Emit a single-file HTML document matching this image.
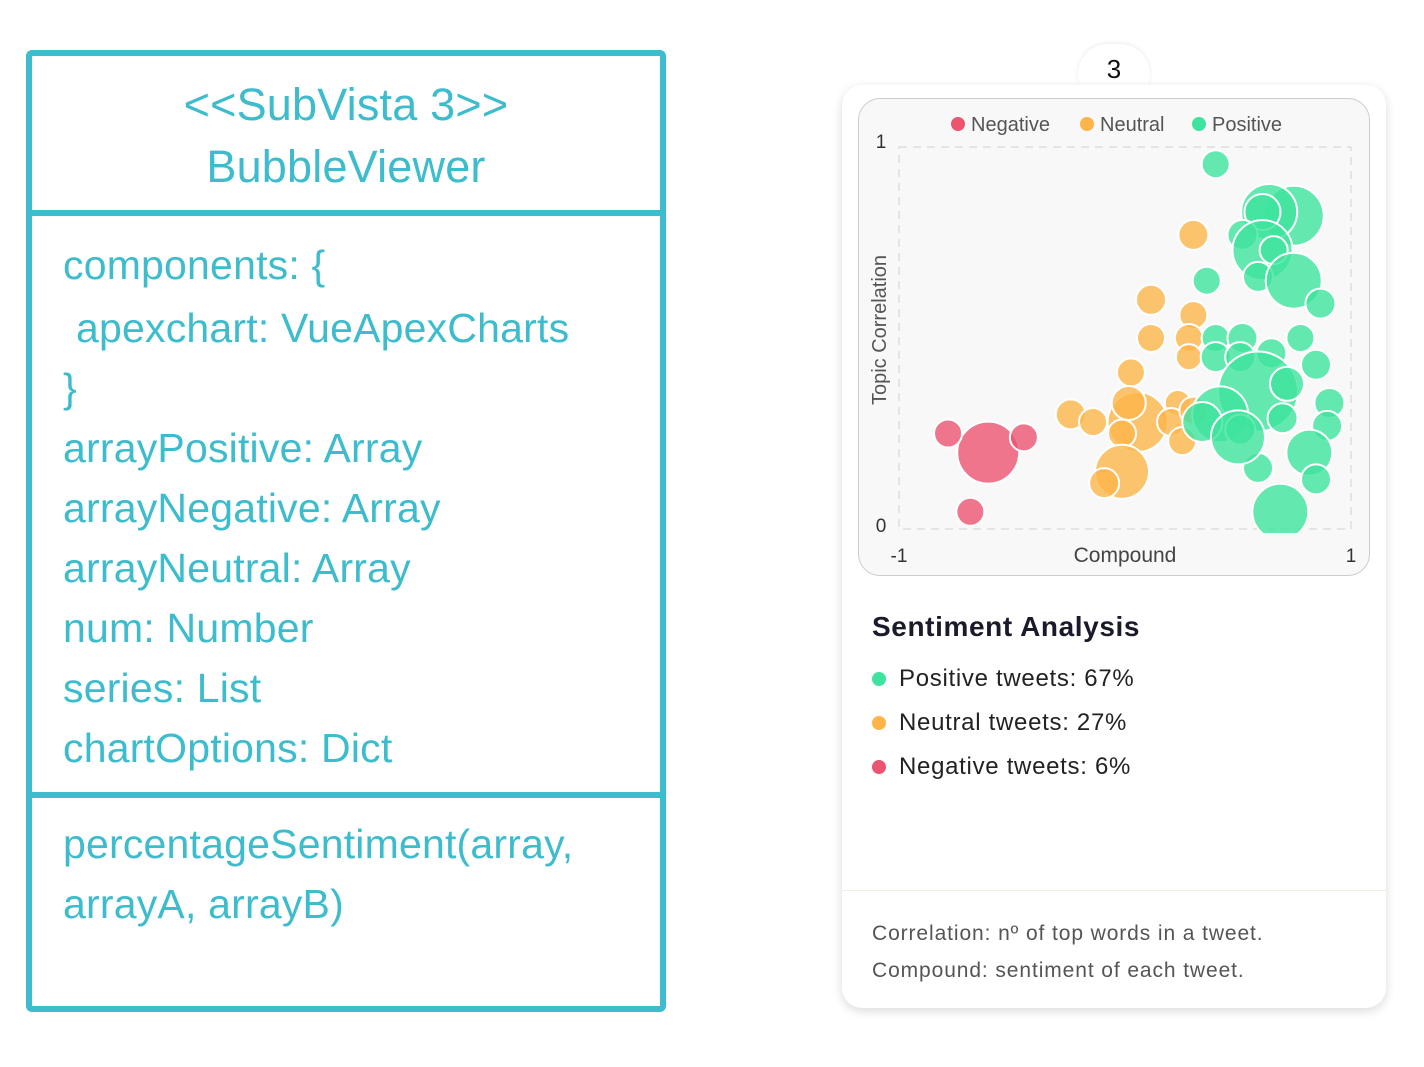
<!DOCTYPE html>
<html><head><meta charset="utf-8"><style>
body{margin:0;width:1424px;height:1067px;background:#fff;position:relative;overflow:hidden;font-family:"Liberation Sans",sans-serif}
.t{position:absolute;color:#3cbccc;font-size:41px;white-space:nowrap;line-height:1;letter-spacing:0.2px}
.uml{position:absolute;left:26px;top:50px;width:628px;height:950px;border:6px solid #3cbccc;border-radius:6px}
.div{position:absolute;left:26px;width:640px;height:6px;background:#3cbccc}
.card{position:absolute;left:842px;top:85px;width:544px;height:923px;border-radius:20px;background:#fff;box-shadow:0 3px 10px rgba(0,0,0,0.15)}
.li{position:absolute;left:899px;font-size:24px;color:#222;white-space:nowrap;letter-spacing:0.7px}
.dot{position:absolute;left:872px;width:14px;height:14px;border-radius:50%}
.ft{position:absolute;left:872px;font-size:21px;color:#555;white-space:nowrap;letter-spacing:0.9px}
</style></head><body>
<div class="uml"></div>
<div class="div" style="top:210px"></div>
<div class="div" style="top:792px"></div>
<div class="t" style="left:26px;width:640px;text-align:center;top:82px;font-size:45px">&lt;&lt;SubVista 3&gt;&gt;</div>
<div class="t" style="left:26px;width:640px;text-align:center;top:144px;font-size:45px">BubbleViewer</div>
<div class="t" style="left:63px;top:245px">components: {</div>
<div class="t" style="left:76px;top:308px">apexchart: VueApexCharts</div>
<div class="t" style="left:63px;top:368px">}</div>
<div class="t" style="left:63px;top:428px">arrayPositive: Array</div>
<div class="t" style="left:63px;top:488px">arrayNegative: Array</div>
<div class="t" style="left:63px;top:548px">arrayNeutral: Array</div>
<div class="t" style="left:63px;top:608px">num: Number</div>
<div class="t" style="left:63px;top:668px">series: List</div>
<div class="t" style="left:63px;top:728px">chartOptions: Dict</div>
<div class="t" style="left:63px;top:824px">percentageSentiment(array,</div>
<div class="t" style="left:63px;top:884px">arrayA, arrayB)</div>

<div style="position:absolute;left:1078px;top:44px;width:72px;height:60px;border-radius:36px;background:#fff;box-shadow:0 -1px 4px rgba(0,0,0,0.08)"></div>
<div class="card"></div>
<div style="position:absolute;left:1078px;top:54px;width:72px;text-align:center;font-size:26px;color:#111">3</div>
<div style="position:absolute;left:858px;top:98px;width:510px;height:476px;border:1px solid #ccc;border-radius:22px;background:#f8f8f8"></div>
<svg id="chart" width="1424" height="1067" style="position:absolute;left:0;top:0"></svg>
<div style="position:absolute;left:872px;top:611px;font-size:28px;font-weight:bold;color:#1a1a2a;letter-spacing:0.6px">Sentiment Analysis</div>
<div class="dot" style="top:672px;background:#3de39e"></div>
<div class="li" style="top:665px">Positive tweets: 67%</div>
<div class="dot" style="top:716px;background:#fdb54a"></div>
<div class="li" style="top:709px">Neutral tweets: 27%</div>
<div class="dot" style="top:760px;background:#ec5470"></div>
<div class="li" style="top:753px">Negative tweets: 6%</div>
<div style="position:absolute;left:842px;top:890px;width:544px;height:1px;background:#f3eedd"></div>
<div class="ft" style="top:922px">Correlation: nº of top words in a tweet.</div>
<div class="ft" style="top:959px">Compound: sentiment of each tweet.</div>
<script>
const negX=[-0.60,-0.78,-0.44,-0.68];
const negY=[0.20,0.25,0.24,0.045];
const negZ=[31,14,14,14];
const neuX=[0.32,0.13,0.32,0.13,0.30,0.30,0.04,-0.23,-0.13,0.07,0.03,0.00,0.25,0.22,0.27,0.00,-0.08,0.32];
const neuY=[0.77,0.60,0.56,0.50,0.50,0.45,0.41,0.30,0.28,0.28,0.33,0.25,0.33,0.28,0.23,0.15,0.12,0.31];
const neuZ=[15,15,14,14,14,13,14,15,14,30,17,14,13,14,14,27,15,14];
const posX=[0.42,0.77,0.66,0.63,0.54,0.63,0.68,0.61,0.77,0.89,0.38,0.42,0.54,0.80,0.42,0.53,0.67,0.87,0.61,0.74,0.44,0.36,0.93,0.72,0.53,0.92,0.84,0.61,0.87,0.71,0.52];
const posY=[0.955,0.82,0.83,0.83,0.77,0.73,0.73,0.66,0.65,0.59,0.65,0.50,0.50,0.50,0.45,0.45,0.46,0.43,0.36,0.38,0.30,0.28,0.33,0.29,0.26,0.27,0.20,0.16,0.13,0.045,0.24];
const posZ=[14,30,28,18,15,30,14,15,28,15,14,14,15,14,15,15,15,15,40,17,28,20,15,15,15,15,23,15,15,28,27];
const xTicks=["-1","1"], yTicks=["0","1"];
const legendNames=["Negative","Neutral","Positive"];
const colors=["#ec5470","#fdb54a","#3de39e"];
const NS="http://www.w3.org/2000/svg";
const svg=document.getElementById('chart');
const L=899,R=1345,T=147,B=529;
const sx=v=>L+(v+1)/2*(R-L), sy=v=>B-v*(B-T);
function mk(tag,attrs){const e=document.createElementNS(NS,tag);for(const k in attrs)e.setAttribute(k,attrs[k]);svg.appendChild(e);return e;}
const defs=mk('defs',{});const cp=document.createElementNS(NS,'clipPath');cp.setAttribute('id','clip');
const cr=document.createElementNS(NS,'rect');cr.setAttribute('x',860);cr.setAttribute('y',100);cr.setAttribute('width',508);cr.setAttribute('height',433);cp.appendChild(cr);defs.appendChild(cp);
const grid=mk('rect',{x:L,y:T,width:R-L+6,height:B-T,fill:'none',stroke:'#ddd','stroke-dasharray':'8,6','stroke-width':1.5});


const g=mk('g',{'clip-path':'url(#clip)'});
function series(xs,ys,zs,col,name){
  for(let i=0;i<xs.length;i++){
    const c=document.createElementNS(NS,'circle');
    c.setAttribute('cx',sx(xs[i]));c.setAttribute('cy',sy(ys[i]));c.setAttribute('r',zs[i]);
    c.setAttribute('fill',col);c.setAttribute('fill-opacity',0.8);c.setAttribute('stroke','#fff');c.setAttribute('stroke-width',2);
    
    
    g.appendChild(c);
  }
}
series(negX,negY,negZ,colors[0],'negative');
series(neuX,neuY,neuZ,colors[1],'neutral');
series(posX,posY,posZ,colors[2],'positive');
function txt(x,y,s,opts,name){const t=mk('text',Object.assign({x:x,y:y,'font-family':'Liberation Sans, sans-serif','font-size':19,fill:'#333'},opts||{}));t.textContent=s;

return t;}
txt(sx(-1),562,xTicks[0],{'text-anchor':'middle'},'x-tick-min');
txt(R+6,562,xTicks[1],{'text-anchor':'middle'},'x-tick-max');
txt(881,532,yTicks[0],{'text-anchor':'middle'},'y-tick-min');
txt(881,148,yTicks[1],{'text-anchor':'middle'},'y-tick-max');
txt(1125,562,'Compound',{'text-anchor':'middle',fill:'#444','font-size':21},'x-axis-title');
txt(886,330,'Topic Correlation',{'text-anchor':'middle',fill:'#555','font-size':20,transform:'rotate(-90 886 330)'},'y-axis-title');
const lx=[958,1087,1199];
for(let i=0;i<3;i++){
  const d=mk('circle',{cx:lx[i],cy:124,r:7,fill:colors[i]});
  
  
  txt(lx[i]+13,131,legendNames[i],{fill:'#555','font-size':20},'legend-entry-'+legendNames[i].toLowerCase());
}
</script>
</body></html>
